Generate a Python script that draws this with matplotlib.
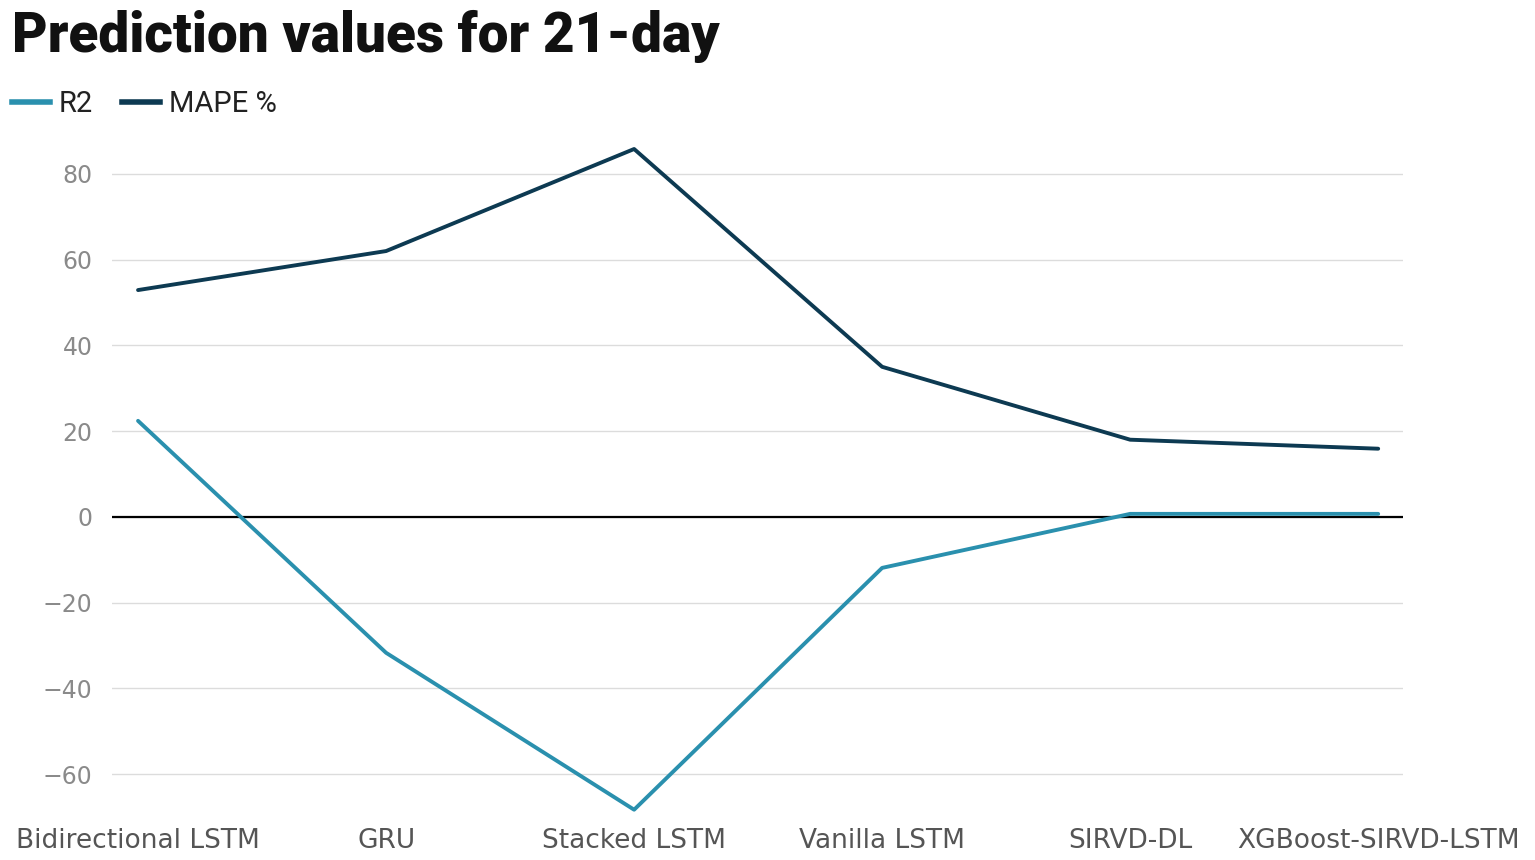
import matplotlib
matplotlib.use("Agg")
import matplotlib.pyplot as plt
from matplotlib.lines import Line2D

categories = ["Bidirectional LSTM", "GRU", "Stacked LSTM", "Vanilla LSTM", "SIRVD-DL", "XGBoost-SIRVD-LSTM"]
r2 = [22.4, -31.7, -68.3, -11.9, 0.7, 0.7]
mape = [52.9, 62.0, 85.8, 35.0, 18.0, 15.9]
yticks = [-60, -40, -20, 0, 20, 40, 60, 80]

c_r2 = "#2a90ae"
c_mape = "#0d3a52"

plt.rcParams['font.family'] = ['Roboto', 'DejaVu Sans']

fig = plt.figure(figsize=(15.35, 8.6), dpi=100)
ax = fig.add_axes([112/1535, 1-817/860, (1403-112)/1535, (817-131)/860])

x = list(range(len(categories)))
ax.plot(x, r2, color=c_r2, lw=2.8, solid_capstyle='round', zorder=3)
ax.plot(x, mape, color=c_mape, lw=2.8, solid_capstyle='round', zorder=3)

ax.set_xlim(-0.105, 5.1)
ax.set_ylim(-70, 90)
ax.set_yticks(yticks)
ax.set_yticklabels([str(t).replace('-', '\u2212') for t in yticks], family=['DejaVu Sans'])
ax.set_xticks(x)
ax.set_xticklabels(categories, family=['DejaVu Sans'])
for s in ax.spines.values():
    s.set_visible(False)
ax.grid(axis='y', color='#dcdcdc', lw=1.0, zorder=0)
ax.axhline(0, color='black', lw=1.6, zorder=2)
ax.tick_params(axis='y', length=0, pad=14, labelsize=17, labelcolor='#8a8a8a')
ax.tick_params(axis='x', length=0, pad=8, labelsize=19, labelcolor='#555555')

fig.text(12/1535, 1-36/860, "Prediction values for 21-day", fontsize=39.5, fontweight='heavy',
         color='#111111', va='center', ha='left')

handles = [Line2D([0], [0], color=c_r2, lw=4), Line2D([0], [0], color=c_mape, lw=4)]
leg = fig.legend(handles, ["R2", "MAPE %"], loc='center left', bbox_to_anchor=(12/1535, 1-104/860),
                 ncol=2, frameon=False, fontsize=21, handlelength=1.3, handletextpad=0.3,
                 columnspacing=1.0, borderpad=0, borderaxespad=0)
for t in leg.get_texts():
    t.set_color('#222222')

fig.savefig("out.png", dpi=100)
